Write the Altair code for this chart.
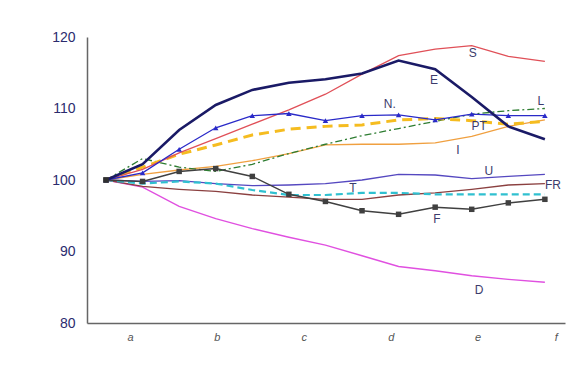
import altair as alt
import pandas as pd

steps = list(range(13))

S  = [100, 101.5, 103.8, 105.8, 107.8, 109.8, 112.0, 114.8, 117.4, 118.3, 118.8, 117.3, 116.6]
E  = [100, 102.2, 107.0, 110.5, 112.6, 113.6, 114.1, 114.9, 116.7, 115.5, 111.6, 107.5, 105.7]
N  = [100, 101.0, 104.3, 107.3, 109.0, 109.3, 108.3, 109.0, 109.1, 108.4, 109.2, 109.0, 109.0]
L  = [100, 103.0, 101.8, 101.2, 102.2, 103.7, 105.0, 106.2, 107.2, 108.2, 109.2, 109.7, 110.0]
PT = [100, 101.8, 103.6, 104.9, 106.3, 107.1, 107.5, 107.7, 108.4, 108.6, 108.3, 107.8, 108.2]
I  = [100, 100.8, 101.4, 101.9, 102.7, 103.7, 104.9, 105.0, 105.0, 105.2, 106.1, 107.5, 108.4]
U  = [100, 99.8, 99.9, 99.5, 99.2, 99.3, 99.5, 100.0, 100.8, 100.7, 100.2, 100.5, 100.8]
T  = [100, 99.5, 99.8, 99.5, 98.6, 97.9, 97.9, 98.2, 98.2, 98.0, 98.0, 98.0, 98.0]
FR = [100, 99.1, 98.7, 98.4, 97.9, 97.6, 97.3, 97.3, 97.9, 98.2, 98.7, 99.3, 99.5]
F  = [100, 99.8, 101.2, 101.6, 100.5, 98.0, 97.0, 95.7, 95.2, 96.2, 95.9, 96.8, 97.3]
D  = [100, 99.0, 96.3, 94.6, 93.2, 92.0, 90.9, 89.4, 87.9, 87.3, 86.6, 86.1, 85.7]

x_tick_pos = [0.66, 3.03, 5.41, 7.79, 10.16, 12.3]
x_tick_lab = ["a", "b", "c", "d", "e", "f"]

lab_text = ["S", "E", "N.", "L", "PT", "I", "U", "FR", "T", "F", "D"]
lab_x    = [10.03, 8.97, 7.76, 11.89, 10.2, 9.62, 10.47, 12.22, 6.75, 9.05, 10.2]
lab_y    = [117.8, 114.0, 110.6, 111.0, 107.6, 104.2, 101.3, 99.3, 98.9, 94.5, 84.6]

series = [
    # name, values, color, width, dash, marker
    ("D", D, "#E050E0", 1.4, None, None),
    ("FR", FR, "#8B4040", 1.3, None, None),
    ("U", U, "#5548C0", 1.3, None, None),
    ("T", T, "#30C0D0", 2.2, [7, 4], None),
    ("I", I, "#F0A040", 1.3, None, None),
    ("L", L, "#2E7D32", 1.3, [7, 3, 2, 3], None),
    ("PT", PT, "#F5BC20", 3.0, [10, 6], None),
    ("S", S, "#E05058", 1.3, None, None),
    ("F", F, "#404040", 1.5, None, "square"),
    ("N", N, "#2A2AC8", 1.3, None, "triangle-up"),
    ("E", E, "#1A1A66", 2.6, None, None),
]

xscale = alt.Scale(domain=[-0.52, 12.55], nice=False, zero=False)
yscale = alt.Scale(domain=[80, 120], nice=False, zero=False)

label_map = "{" + ", ".join(f"'{p}': '{l}'" for p, l in zip(x_tick_pos, x_tick_lab)) + "}"
x_axis = alt.Axis(values=x_tick_pos, labelExpr=f"{label_map}[toString(datum.value)]",
    title=None, grid=False, ticks=False, domainColor="#666666", domainWidth=1.5,
    labelFont="Liberation Sans", labelFontStyle="italic", labelFontSize=11,
    labelColor="#555555", labelPadding=8)
y_axis = alt.Axis(values=[80, 90, 100, 110, 120], title=None, grid=False, ticks=False,
                  domainColor="#666666", domainWidth=1.5, labelFont="Liberation Sans",
                  labelFontSize=14, labelColor="#2B2B6E", labelPadding=12)

X = alt.X("x:Q", scale=xscale, axis=x_axis)
Y = alt.Y("y:Q", scale=yscale, axis=y_axis)

layers = []
for name, vals, color, width, dash, marker in series:
    df = pd.DataFrame({"x": steps, "y": vals})
    kw = dict(color=color, strokeWidth=width)
    if dash:
        kw["strokeDash"] = dash
    layers.append(alt.Chart(df).mark_line(**kw).encode(x=X, y=Y))
    if marker:
        layers.append(alt.Chart(df).mark_point(shape=marker, filled=True, color=color,
                                               size=30, opacity=1).encode(x=X, y=Y))

start = pd.DataFrame({"x": [0], "y": [100]})
layers.append(alt.Chart(start).mark_point(shape="square", filled=True, color="#303030",
                                          size=30, opacity=1).encode(x=X, y=Y))

labels = pd.DataFrame({"t": lab_text, "x": lab_x, "y": lab_y})
layers.append(alt.Chart(labels).mark_text(font="Liberation Sans", fontSize=12,
                                          color="#3C3C6C", baseline="middle").encode(
    x=X, y=Y, text="t:N"))

chart = alt.layer(*layers).properties(
    width=478, height=286, autosize="none", background="white",
    padding={"left": 79, "top": 29, "right": 7, "bottom": 41},
).configure_view(stroke=None)

chart.save("out.html", embed_options={"renderer": "svg", "actions": False})
